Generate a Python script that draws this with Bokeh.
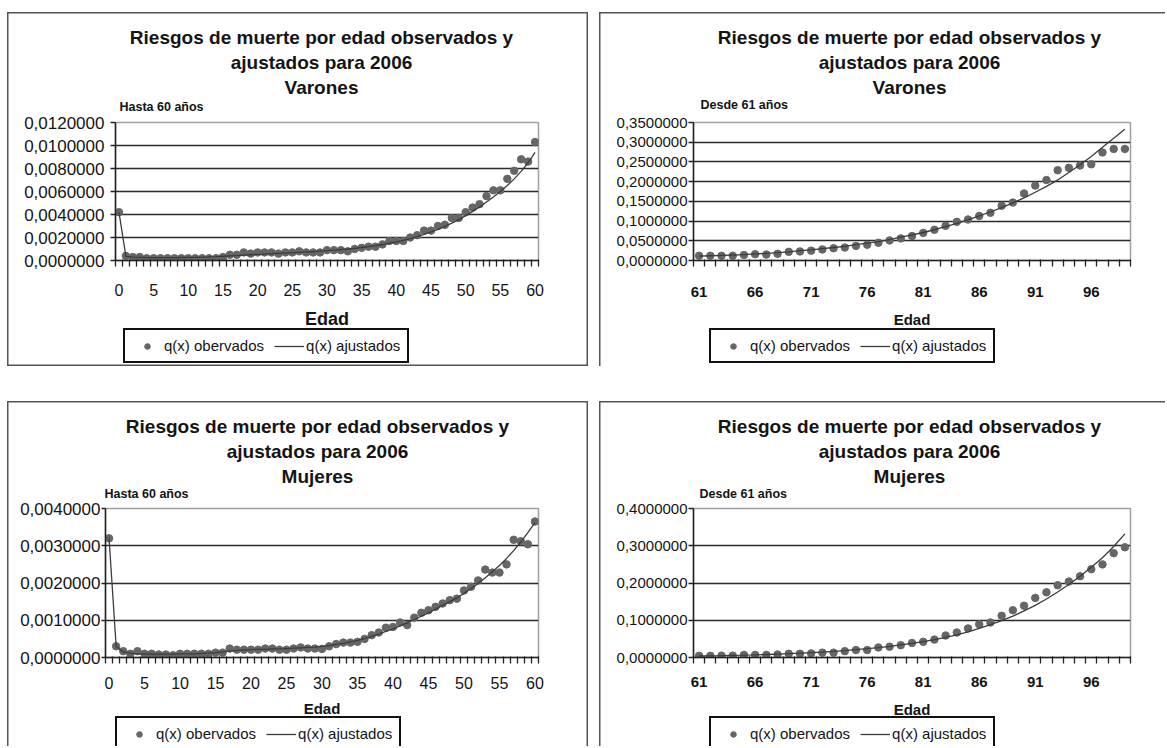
from bokeh.plotting import figure
from bokeh.models import (Range1d, FixedTicker, CustomJSTickFormatter, Label, Legend, LegendItem, Spacer)
from bokeh.layouts import row, column
from bokeh.embed import file_html
from bokeh.resources import INLINE

FONT = "Liberation Sans"

# ---------------- texts ----------------
title_line1 = "Riesgos de muerte por edad observados y"
title_line2 = "ajustados para 2006"
sex_varones = "Varones"
sex_mujeres = "Mujeres"
x_axis_title = "Edad"
legend_obs = "q(x) obervados"
legend_fit = "q(x) ajustados"
sub_hasta = "Hasta 60 años"
sub_desde = "Desde 61 años"

# ---------------- categories / ticks ----------------
ages_young = list(range(0, 61))
ages_old = list(range(61, 100))
young_xticks = [0, 5, 10, 15, 20, 25, 30, 35, 40, 45, 50, 55, 60]
old_xticks = [61, 66, 71, 76, 81, 86, 91, 96]

varones_young_yticks = [0.0, 0.002, 0.004, 0.006, 0.008, 0.010, 0.012]
varones_old_yticks = [0.0, 0.05, 0.10, 0.15, 0.20, 0.25, 0.30, 0.35]
mujeres_young_yticks = [0.0, 0.001, 0.002, 0.003, 0.004]
mujeres_old_yticks = [0.0, 0.1, 0.2, 0.3, 0.4]

# ---------------- series ----------------
varones_young_obs = [
    0.0042, 0.0004, 0.0003, 0.0003, 0.0002, 0.0002, 0.0002, 0.0002, 0.0002, 0.0002,
    0.0002, 0.0002, 0.0002, 0.0002, 0.0002, 0.0003, 0.0005, 0.0005, 0.0007, 0.0006,
    0.0007, 0.0007, 0.0007, 0.0006, 0.0007, 0.0007, 0.0008, 0.0007, 0.0007, 0.0007,
    0.0009, 0.0009, 0.0009, 0.0008, 0.0010, 0.0011, 0.0012, 0.0012, 0.0014, 0.0017,
    0.0017, 0.0017, 0.0020, 0.0022, 0.0026, 0.0026, 0.0030, 0.0031, 0.0037, 0.0037,
    0.0042, 0.0046, 0.0049, 0.0056, 0.0061, 0.0061, 0.0071, 0.0078, 0.0088, 0.0086,
    0.0103]
varones_young_fit = [
    0.0042, 0.00035, 0.00030, 0.00028, 0.00026, 0.00025, 0.00025, 0.00025, 0.00025, 0.00026,
    0.00027, 0.00028, 0.00030, 0.00032, 0.00034, 0.00037, 0.00040, 0.00043, 0.00046, 0.00050,
    0.00053, 0.00056, 0.00059, 0.00062, 0.00065, 0.00068, 0.00071, 0.00074, 0.00078, 0.00082,
    0.00086, 0.00090, 0.00095, 0.00100, 0.00106, 0.00113, 0.00120, 0.00129, 0.00139, 0.00150,
    0.00162, 0.00176, 0.00191, 0.00208, 0.00227, 0.00248, 0.00271, 0.00297, 0.00325, 0.00356,
    0.00390, 0.00427, 0.00466, 0.00508, 0.00553, 0.00601, 0.00653, 0.00710, 0.00775, 0.00850,
    0.00940]
varones_old_obs = [
    0.012, 0.012, 0.012, 0.012, 0.014, 0.016, 0.015, 0.017, 0.022, 0.023,
    0.025, 0.028, 0.031, 0.033, 0.037, 0.040, 0.045, 0.051, 0.056, 0.062,
    0.070, 0.078, 0.088, 0.098, 0.104, 0.113, 0.121, 0.139, 0.147, 0.170,
    0.190, 0.204, 0.229, 0.235, 0.241, 0.244, 0.274, 0.283, 0.283]
varones_old_fit = [
    0.011, 0.012, 0.013, 0.014, 0.015, 0.017, 0.018, 0.020, 0.022, 0.025,
    0.027, 0.030, 0.033, 0.036, 0.040, 0.044, 0.048, 0.053, 0.059, 0.065,
    0.071, 0.078, 0.086, 0.094, 0.103, 0.113, 0.123, 0.134, 0.146, 0.159,
    0.173, 0.188, 0.204, 0.223, 0.243, 0.264, 0.287, 0.310, 0.333]
mujeres_young_obs = [
    0.00320, 0.00030, 0.00017, 0.00010, 0.00017, 0.00010, 0.00010, 0.00008, 0.00008, 0.00006,
    0.00010, 0.00010, 0.00010, 0.00010, 0.00010, 0.00013, 0.00013, 0.00024, 0.00021, 0.00021,
    0.00021, 0.00021, 0.00024, 0.00024, 0.00021, 0.00021, 0.00024, 0.00027, 0.00024, 0.00024,
    0.00023, 0.00030, 0.00036, 0.00040, 0.00040, 0.00042, 0.00050, 0.00060, 0.00067, 0.00080,
    0.00082, 0.00094, 0.00087, 0.00107, 0.00120, 0.00127, 0.00136, 0.00145, 0.00154, 0.00158,
    0.00180, 0.00190, 0.00207, 0.00236, 0.00228, 0.00228, 0.00250, 0.00316, 0.00312, 0.00304,
    0.00365]
mujeres_young_fit = [
    0.00320, 0.00030, 0.00015, 0.00012, 0.00010, 0.00010, 0.00009, 0.00009, 0.00009, 0.00009,
    0.00010, 0.00010, 0.00010, 0.00011, 0.00012, 0.00013, 0.00015, 0.00017, 0.00019, 0.00020,
    0.00021, 0.00022, 0.00022, 0.00023, 0.00023, 0.00024, 0.00025, 0.00026, 0.00027, 0.00028,
    0.00030, 0.00032, 0.00035, 0.00038, 0.00042, 0.00046, 0.00051, 0.00057, 0.00063, 0.00070,
    0.00077, 0.00085, 0.00093, 0.00102, 0.00111, 0.00120, 0.00130, 0.00140, 0.00150, 0.00160,
    0.00172, 0.00185, 0.00199, 0.00214, 0.00230, 0.00247, 0.00266, 0.00287, 0.00310, 0.00335,
    0.00362]
mujeres_old_obs = [
    0.0045, 0.0045, 0.005, 0.005, 0.007, 0.007, 0.007, 0.008, 0.010, 0.010,
    0.011, 0.013, 0.013, 0.017, 0.020, 0.020, 0.027, 0.029, 0.033, 0.039,
    0.042, 0.048, 0.059, 0.067, 0.078, 0.089, 0.094, 0.112, 0.127, 0.139,
    0.160, 0.175, 0.194, 0.204, 0.218, 0.237, 0.250, 0.280, 0.296]
mujeres_old_fit = [
    0.0040, 0.0045, 0.0050, 0.0057, 0.0064, 0.0072, 0.0081, 0.0092, 0.0103, 0.0116,
    0.0130, 0.0147, 0.0165, 0.0186, 0.0210, 0.0236, 0.0266, 0.0300, 0.0337, 0.0380,
    0.0428, 0.0480, 0.0540, 0.0610, 0.0690, 0.0780, 0.0880, 0.0990, 0.1110, 0.1250,
    0.1400, 0.1570, 0.1760, 0.1960, 0.2180, 0.2420, 0.2680, 0.2980, 0.3320]

TXT = "#141414"
DOT = "#666666"
LINE = "#3c3c3c"
PAGE_W, PAGE_H = 1165, 746
NAN = float("nan")

# overlay figure: a pixel-space canvas on top of the four panels that carries
# titles, sub-titles, axis titles and legends (outside the panels' frames)
ov = figure(width=PAGE_W, height=PAGE_H, x_range=Range1d(0, PAGE_W), y_range=Range1d(PAGE_H, 0),
            x_axis_type=None, y_axis_type=None, min_border=0, toolbar_location=None,
            output_backend="svg")
ov.outline_line_color = None
ov.background_fill_color = None
ov.border_fill_color = None
ov.styles = {"position": "absolute", "left": "0px", "top": "0px", "z-index": "5",
             "pointer-events": "none"}
# legend proxies (not drawn: NaN position)
leg_obs_r = ov.scatter(x=[NAN], y=[NAN], size=7.5, color=DOT)
leg_fit_r = ov.line(x=[NAN, NAN], y=[NAN, NAN], color=LINE, line_width=1.3)


def add_text(X, Y, text, size, bold=False, align="center"):
    ov.add_layout(Label(x=X, y=Y, text=text, text_font=FONT, text_font_size=f"{size}px",
                        text_font_style="bold" if bold else "normal",
                        text_align=align, text_baseline="middle", text_color=TXT))


def make_panel(ages, obs, fit, xticks, yticks, sex, sub, g, shadow):
    fx0, fy0, fw, fh = g["fig"]
    fl, fr, ft, fb = g["frame"]
    p = figure(width=fw, height=fh, output_backend="svg", toolbar_location=None,
               x_range=Range1d(ages[0] - 0.5, ages[-1] + 0.5),
               y_range=Range1d(yticks[0], yticks[-1]),
               min_border_left=fl - fx0, min_border_right=fx0 + fw - fr,
               min_border_top=ft - fy0, min_border_bottom=fy0 + fh - fb)
    p.border_fill_color = None
    p.background_fill_color = "white"
    p.outline_line_color = "#a0a0a0"
    p.outline_line_width = 1.5
    p.styles = {"box-shadow": shadow, "background-color": "white"}

    p.xgrid.visible = False
    p.ygrid.ticker = FixedTicker(ticks=yticks[1:-1])
    p.ygrid.grid_line_color = "#2a2a2a"
    p.ygrid.grid_line_width = 1.4

    xa = p.xaxis[0]
    xa.ticker = FixedTicker(ticks=xticks, minor_ticks=[a - 0.5 for a in ages] + [ages[-1] + 0.5])
    xa.major_tick_line_color = None
    xa.major_tick_out = 0
    xa.major_tick_in = 0
    xa.minor_tick_line_color = "#222222"
    xa.minor_tick_line_width = 1.3
    xa.minor_tick_out = 6
    xa.minor_tick_in = 1
    xa.axis_line_color = "#222222"
    xa.axis_line_width = 1.5
    xa.major_label_text_font = FONT
    xa.major_label_text_font_size = f"{g['xfont']}px"
    xa.major_label_text_font_style = g["xstyle"]
    xa.major_label_text_color = TXT
    xa.major_label_standoff = g["xstand"]

    ya = p.yaxis[0]
    ya.ticker = FixedTicker(ticks=yticks, minor_ticks=[])
    ya.formatter = CustomJSTickFormatter(code="return tick.toFixed(7).replace('.', ',');")
    ya.major_tick_out = g["ytick"]
    ya.major_tick_in = 0
    ya.major_tick_line_color = "#222222"
    ya.major_tick_line_width = 1.3
    ya.axis_line_color = "#222222"
    ya.axis_line_width = 1.5
    ya.major_label_text_font = FONT
    ya.major_label_text_font_size = f"{g['yfont']}px"
    ya.major_label_text_color = TXT
    ya.major_label_standoff = g["ystand"]

    p.scatter(ages, obs, size=7.5, color=DOT)
    p.line(ages, fit, color=LINE, line_width=1.3)

    # texts on the overlay
    tx = g["title_x"]
    for yy, t in zip(g["title_y"], [title_line1, title_line2, sex]):
        add_text(tx, yy, t, 19, bold=True)
    sx, sy = g["sub"]
    add_text(sx, sy, sub, 12.5, bold=True, align="left")
    add_text((fl + fr) / 2, g["edad_y"], x_axis_title, g["edad_font"], bold=True)

    lx, lb = g["legend"]
    legend = Legend(items=[LegendItem(label=legend_obs, renderers=[leg_obs_r]),
                           LegendItem(label=legend_fit, renderers=[leg_fit_r])],
                    location=(lx, PAGE_H - lb), orientation="horizontal",
                    label_text_font=FONT, label_text_font_size="15px", label_text_color=TXT,
                    glyph_width=30, glyph_height=14, label_standoff=2, spacing=10,
                    padding=7, margin=0, label_height=16,
                    border_line_color="#111111", border_line_width=2, border_line_alpha=1.0,
                    background_fill_color="white", background_fill_alpha=1.0)
    ov.add_layout(legend)
    return p


S = "#555555"
geo_tl = dict(fig=(7, 12, 581, 354), frame=(115, 538, 122, 260), xfont=16, xstyle="normal", xstand=17,
              yfont=17, ystand=6, ytick=5, title_x=321, title_y=(37, 62, 87), sub=(119, 106),
              edad_y=318, edad_font=18, legend=(123, 363))
geo_tr = dict(fig=(599, 12, 566, 354), frame=(693, 1130, 120, 269), xfont=15, xstyle="bold", xstand=20,
              yfont=15, ystand=1, ytick=5, title_x=909, title_y=(37, 62, 87), sub=(700, 104),
              edad_y=319, edad_font=15, legend=(709, 363))
geo_bl = dict(fig=(7, 401, 581, 345), frame=(105, 538, 508, 657), xfont=16, xstyle="normal", xstand=13,
              yfont=17, ystand=1, ytick=4, title_x=317, title_y=(426, 451, 476), sub=(104, 493),
              edad_y=708, edad_font=15, legend=(115, 751))
geo_br = dict(fig=(599, 401, 566, 345), frame=(693, 1130, 508, 657), xfont=15, xstyle="bold", xstand=13,
              yfont=15, ystand=1, ytick=5, title_x=909, title_y=(426, 451, 476), sub=(699, 493),
              edad_y=709, edad_font=15, legend=(709, 751))

p_tl = make_panel(ages_young, varones_young_obs, varones_young_fit, young_xticks, varones_young_yticks,
                  sex_varones, sub_hasta, geo_tl, f"inset 0 0 0 1.5px {S}")
p_tr = make_panel(ages_old, varones_old_obs, varones_old_fit, old_xticks, varones_old_yticks,
                  sex_varones, sub_desde, geo_tr, f"inset 1.5px 1.5px 0 0 {S}")
p_bl = make_panel(ages_young, mujeres_young_obs, mujeres_young_fit, young_xticks, mujeres_young_yticks,
                  sex_mujeres, sub_hasta, geo_bl, f"inset 1.5px 1.5px 0 0 {S}, inset -1.5px 0 0 0 {S}")
p_br = make_panel(ages_old, mujeres_old_obs, mujeres_old_fit, old_xticks, mujeres_old_yticks,
                  sex_mujeres, sub_desde, geo_br, f"inset 1.5px 1.5px 0 0 {S}")

layout = column(ov,
                Spacer(width=10, height=12),
                row(Spacer(width=7, height=10), p_tl, Spacer(width=11, height=10), p_tr),
                Spacer(width=10, height=35),
                row(Spacer(width=7, height=10), p_bl, Spacer(width=11, height=10), p_br))

open("out.html", "w").write(file_html(layout, INLINE))
